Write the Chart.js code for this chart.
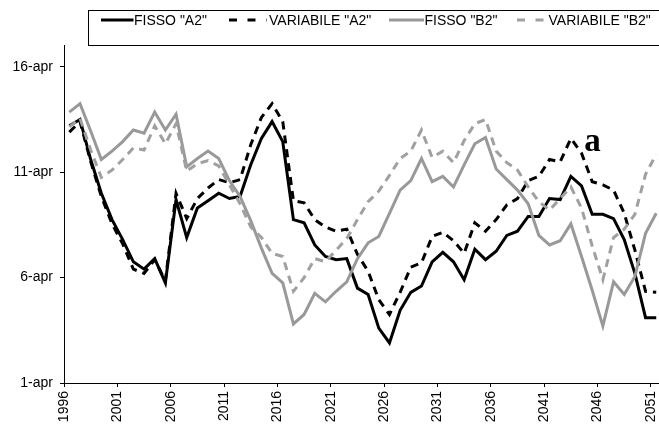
<!DOCTYPE html>
<html>
<head>
<meta charset="utf-8">
<script src="https://cdn.jsdelivr.net/npm/chart.js@4.4.0/dist/chart.umd.min.js"></script>
<style>
  html, body { margin: 0; padding: 0; background: #fff; }
</style>
</head>
<body>
<canvas id="chart" width="659" height="425"></canvas>
<script>
const years = [
  1996, 1997, 1998, 1999, 2000, 2001, 2002, 2003, 2004, 2005,
  2006, 2007, 2008, 2009, 2010, 2011, 2012, 2013, 2014, 2015,
  2016, 2017, 2018, 2019, 2020, 2021, 2022, 2023, 2024, 2025,
  2026, 2027, 2028, 2029, 2030, 2031, 2032, 2033, 2034, 2035,
  2036, 2037, 2038, 2039, 2040, 2041, 2042, 2043, 2044, 2045,
  2046, 2047, 2048, 2049, 2050, 2051
];

// giorno di aprile per ciascun anno
const fissoA2 = [
  13.2, 13.5, 11.6, 10.0, 8.75, 7.8, 6.75, 6.4, 6.9, 5.75,
  9.7, 7.9, 9.3, 9.65, 10.0, 9.75, 9.85, 11.35, 12.6, 13.4,
  12.45, 8.75, 8.6, 7.55, 7.0, 6.85, 6.9, 5.5, 5.2, 3.6,
  2.9, 4.45, 5.3, 5.6, 6.75, 7.2, 6.75, 5.9, 7.35, 6.85,
  7.25, 8.0, 8.2, 8.9, 8.9, 9.75, 9.7, 10.8, 10.35, 9.0,
  9.0, 8.8, 7.8, 6.2, 4.1, 4.1
];
const variabileA2 = [
  12.9, 13.4, 11.5, 9.85, 8.55, 7.6, 6.4, 6.2, 6.85, 5.85,
  10.0, 8.8, 9.75, 10.25, 10.65, 10.5, 10.65, 12.3, 13.6, 14.25,
  13.4, 9.65, 9.55, 8.75, 8.4, 8.2, 8.3, 7.1, 6.3, 4.95,
  4.25, 5.3, 6.5, 6.7, 7.95, 8.15, 7.75, 7.15, 8.6, 8.2,
  8.75, 9.45, 9.75, 10.6, 10.8, 11.6, 11.5, 12.6, 11.9, 10.55,
  10.4, 10.15, 9.05, 7.3, 5.35, 5.3
];
const fissoB2 = [
  13.85, 14.25, 12.95, 11.6, 12.0, 12.45, 13.0, 12.85, 13.85, 13.0,
  13.75, 11.25, 11.65, 12.0, 11.65, 10.6, 9.85, 8.7, 7.4, 6.2,
  5.75, 3.8, 4.25, 5.25, 4.85, 5.35, 5.8, 6.9, 7.65, 7.95,
  9.05, 10.15, 10.6, 11.65, 10.55, 10.8, 10.3, 11.35, 12.35, 12.65,
  11.15, 10.65, 10.15, 9.5, 8.0, 7.55, 7.75, 8.55, 7.0, 5.4,
  3.7, 5.8, 5.2, 6.05, 8.1, 9.05
];
const variabileB2 = [
  13.15, 13.55, 12.05, 10.75, 11.1, 11.6, 12.15, 12.05, 13.2, 12.35,
  13.3, 11.05, 11.4, 11.55, 11.3, 10.4, 9.5, 8.4, 7.9, 7.15,
  7.0, 5.35, 6.0, 6.9, 6.75, 7.3, 7.85, 8.75, 9.6, 10.1,
  10.85, 11.65, 12.0, 13.0, 11.7, 12.0, 11.45, 12.5, 13.3, 13.5,
  12.0, 11.45, 11.1, 10.3, 9.6, 9.2, 9.75, 10.3, 9.3, 7.5,
  5.9, 7.9, 8.3, 9.0, 10.9, 11.85
];

const seriesNames = ['FISSO "A2"', 'VARIABILE "A2"', 'FISSO "B2"', 'VARIABILE "B2"'];
const yearTicks = [1996, 2001, 2006, 2011, 2016, 2021, 2026, 2031, 2036, 2041, 2046, 2051];
const dayTicks = [1, 6, 11, 16];
const noteLabel = 'a';

const FONT = "'Liberation Sans', Arial, sans-serif";

// ogni anno sta a metà tra due tacche
function toPoints(values) {
  return values.map((v, i) => ({ x: years[i] + 0.5, y: v }));
}

function makeSet(label, values, color, dash, order) {
  return {
    label,
    data: toPoints(values),
    borderColor: color,
    borderWidth: 3,
    borderDash: dash,
    pointRadius: 0,
    tension: 0,
    fill: false,
    order
  };
}

// legenda incorniciata in alto
const boxLegend = {
  id: 'boxLegend',
  afterDraw(chart) {
    const ctx = chart.ctx;
    const slots = [
      { from: 101, to: 133.5, text: 134 },
      { from: 229, to: 266.5, text: 269 },
      { from: 389, to: 424, text: 424.5 },
      { from: 517, to: 546, text: 548.5 }
    ];
    const y = 20;
    ctx.save();
    ctx.strokeStyle = '#000';
    ctx.lineWidth = 1;
    ctx.strokeRect(88.5, 10.5, 640, 35);
    chart.data.datasets.forEach((ds, i) => {
      const s = slots[i];
      ctx.beginPath();
      ctx.setLineDash(ds.borderDash.length ? [8, 10.5] : []);
      ctx.strokeStyle = ds.borderColor;
      ctx.lineWidth = 3;
      ctx.moveTo(s.from, y);
      ctx.lineTo(s.to, y);
      ctx.stroke();
      ctx.setLineDash([]);
      ctx.fillStyle = '#000';
      ctx.font = '14px ' + FONT;
      ctx.textBaseline = 'middle';
      ctx.textAlign = 'left';
      ctx.fillText(ds.label, s.text, y + 1);
    });
    ctx.restore();
  }
};

// lettera "a" accanto alla serie
const noteMark = {
  id: 'noteMark',
  afterDatasetsDraw(chart) {
    const { ctx, scales } = chart;
    ctx.save();
    ctx.fillStyle = '#000';
    ctx.font = "bold 33px 'Liberation Serif', 'Times New Roman', serif";
    ctx.textBaseline = 'alphabetic';
    ctx.textAlign = 'left';
    ctx.fillText(noteLabel, scales.x.getPixelForValue(2044.75), scales.y.getPixelForValue(12.0));
    ctx.restore();
  }
};

new Chart(document.getElementById('chart'), {
  type: 'line',
  data: {
    datasets: [
      makeSet(seriesNames[0], fissoA2, '#000000', [], 4),
      makeSet(seriesNames[1], variabileA2, '#000000', [8, 6], 3),
      makeSet(seriesNames[2], fissoB2, '#999999', [], 2),
      makeSet(seriesNames[3], variabileB2, '#a0a0a0', [8, 6], 1)
    ]
  },
  options: {
    responsive: false,
    animation: false,
    events: [],
    layout: { padding: { top: 45.7, right: 0, bottom: 0, left: 0 } },
    plugins: {
      legend: { display: false },
      tooltip: { enabled: false }
    },
    scales: {
      x: {
        type: 'linear',
        min: 1996,
        max: 2051.76,
        afterBuildTicks: (scale) => { scale.ticks = yearTicks.map(v => ({ value: v })); },
        afterFit: (scale) => {
          scale.height = 42;
          scale.paddingLeft = 0;
          scale.paddingRight = 0;
        },
        grid: { drawOnChartArea: false, drawTicks: true, tickLength: 4, color: '#000' },
        border: { display: true, color: '#000', width: 1 },
        ticks: {
          autoSkip: false,
          minRotation: 90,
          maxRotation: 90,
          padding: 4,
          color: '#000',
          font: { family: FONT, size: 14 },
          callback: (v) => String(v)
        }
      },
      y: {
        min: 1,
        max: 17,
        afterBuildTicks: (scale) => { scale.ticks = dayTicks.map(v => ({ value: v })); },
        afterFit: (scale) => {
          scale.width = 64;
          scale.paddingTop = 0;
          scale.paddingBottom = 0;
        },
        grid: { drawOnChartArea: false, drawTicks: true, tickLength: 4, color: '#000' },
        border: { display: true, color: '#000', width: 1 },
        ticks: {
          padding: 7,
          color: '#000',
          font: { family: FONT, size: 14 },
          callback: (v) => v + '-apr'
        }
      }
    }
  },
  plugins: [boxLegend, noteMark]
});
</script>
</body>
</html>
